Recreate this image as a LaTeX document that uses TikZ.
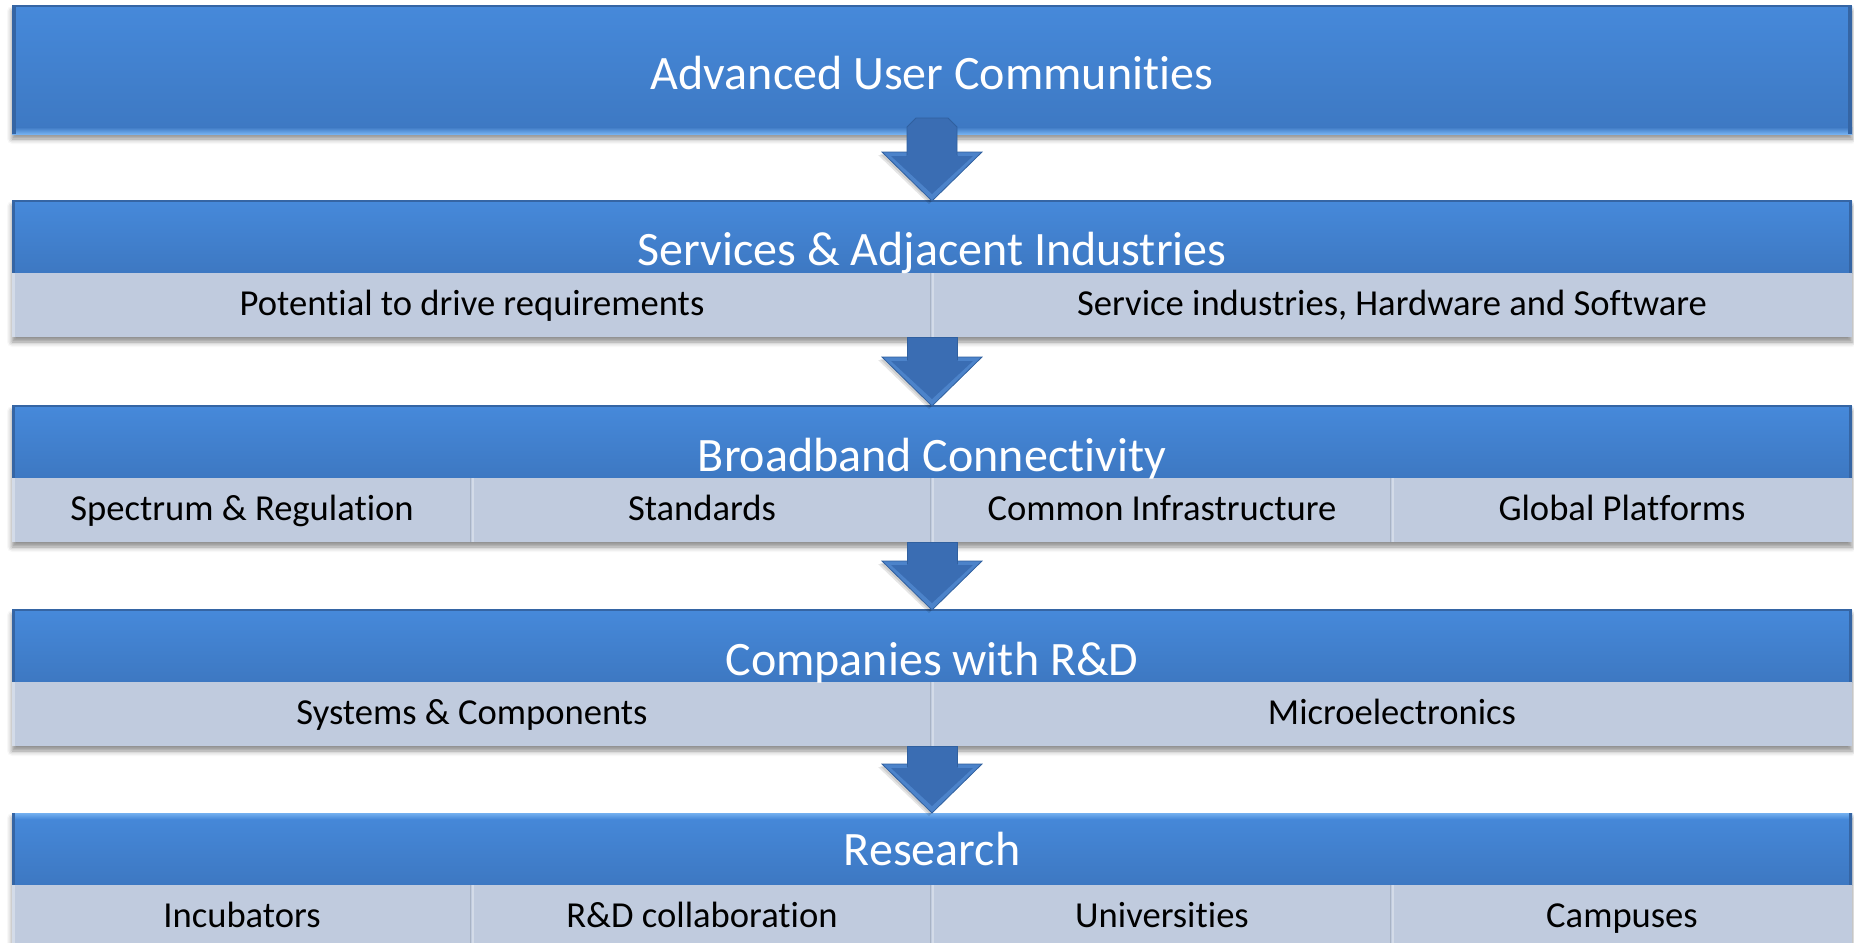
\documentclass[tikz,border=0pt]{standalone}
\usepackage{fontspec}
\setmainfont{Carlito}[Ligatures={CommonOff,ContextualOff,RareOff},Contextuals=AlternateOff]
\usetikzlibrary{calc,shadows.blur}

\definecolor{bluetop}{HTML}{4689DA}
\definecolor{bluebot}{HTML}{3D78C2}
\definecolor{cellgrey}{HTML}{C0CBDE}
\definecolor{cellhi}{HTML}{D3DBE8}
\definecolor{celldark}{HTML}{A8B3C5}
\definecolor{arrowblue}{HTML}{3A6DB3}
\definecolor{arrowdark}{HTML}{30609F}
\definecolor{arrowhi}{HTML}{4C83CA}
\definecolor{bevellight}{HTML}{74B0F0}
\definecolor{edgedark}{HTML}{3565A4}

\pgfdeclarelayer{background}
\pgfsetlayers{background,main}

\tikzset{
  bluebox/.style={rectangle, inner sep=0pt, outer sep=0pt, minimum width=920pt,
    top color=bluetop, bottom color=bluebot, draw=none},
  header/.style={bluebox, minimum height=36pt},
  bigheader/.style={bluebox, minimum height=64pt},
  cell/.style={rectangle, inner sep=0pt, outer sep=0pt, minimum height=32pt,
    fill=cellgrey, text=black, font=\fontsize{18.3}{22}\selectfont,
    text height=10pt, text depth=0pt},
  halfcell/.style={cell, minimum width=460pt},
  quartcell/.style={cell, minimum width=230pt},
  titletext/.style={anchor=base, text=white, font=\fontsize{24}{28}\selectfont, inner sep=0pt},
  boxshadow/.style={blur shadow={shadow xshift=0pt, shadow yshift=-2.5pt,
    shadow blur radius=2.5pt, shadow opacity=45}},
  arrowbody/.style={fill=arrowblue, draw=arrowdark, line width=0.4pt, line join=miter},
  arrowouter/.style={fill=arrowhi, draw=arrowdark, line width=0.4pt, line join=miter},
  arrowshadow/.style={fill=black, fill opacity=0.10},
  arrowinner/.style={fill=arrowblue},
  edgeline/.style={fill=edgedark},
  divider/.style={draw=cellhi, line width=1pt},
  dividershade/.style={draw=celldark, line width=0.5pt},
}

% flow arrow from a named start point #2 to a named end point #3 (tip); #1 = chamfer of the shaft top (px)
\newcommand{\flowarr}[3][0]{%
  \path[arrowshadow]
    ($(#3)+(-54,-46)$) -- ($(#3)+(46,-46)$) -- ($(#3)+(-3,3)$) -- cycle;
  \path[arrowshadow]
    ($(#3)+(-52,-47)$) -- ($(#3)+(48,-47)$) -- ($(#3)+(-2,1.5)$) -- cycle;
  \path[arrowouter]
    ($(#3)+(-50,-49)$) -- ($(#3)+(50,-49)$) -- (#3) -- cycle;
  \path[arrowinner]
    ($(#3)+(-41,-45)$) -- ($(#3)+(41,-45)$) -- ($(#3)+(0,-7)$) -- cycle;
  \path[arrowbody]
    ($(#2)+(-25,#1)$) -- ($(#2)+({-25+#1},0)$) -- ($(#2)+({25-#1},0)$) -- ($(#2)+(25,#1)$)
    -- ($(#3)+(25,-45)$) -- ($(#3)+(-25,-45)$) -- cycle;
  \path[fill=arrowblue] ($(#3)+(-25.5,-46)$) rectangle ($(#3)+(25.5,-40)$);
}

\begin{document}
\begin{tikzpicture}[x=0.5pt,y=-0.5pt]
\useasboundingbox (0,0) rectangle (1854,943);

% ---------- Box 1 ----------
\node[bigheader] (h1) at (932,70) {};
\fill[top color=bluebot, bottom color=bevellight] ([yshift=3.5pt]h1.south west) rectangle (h1.south east);
\fill[edgeline] (h1.north west) rectangle ([xshift=2pt]h1.south west);
\fill[edgeline] ([xshift=-2pt]h1.north east) rectangle (h1.south east);
\draw[edgedark, line width=0.8pt] (h1.north west) -- (h1.north east);
\node[titletext] (t1) at (932,89) {Advanced User Communities};

% ---------- Box 2 ----------
\node[header] (h2) at (932,237) {};
\node[halfcell] (c21) at (472,305) {Potential to drive requirements};
\node[halfcell] (c22) at (1392,305) {Service industries, Hardware and Software};
\node[titletext] (t2) at (932,265) {Services \& Adjacent Industries};

% ---------- Box 3 ----------
\node[header] (h3) at (932,442) {};
\node[quartcell] (c31) at (242,510) {Spectrum \& Regulation};
\node[quartcell] (c32) at (702,510) {Standards};
\node[quartcell] (c33) at (1162,510) {Common Infrastructure};
\node[quartcell] (c34) at (1622,510) {Global Platforms};
\node[titletext] (t3) at (932,471) {Broadband Connectivity};

% ---------- Box 4 ----------
\node[header] (h4) at (932,646) {};
\node[halfcell] (c41) at (472,714) {Systems \& Components};
\node[halfcell] (c42) at (1392,714) {Microelectronics};
\node[titletext] (t4) at (932,675) {Companies with R\&D};

% ---------- Box 5 ----------
\node[header] (h5) at (932,849) {};
\fill[top color=bevellight, bottom color=bluetop] (h5.north west) rectangle ([yshift=-3pt]h5.north east);
\node[quartcell] (c51) at (242,917) {Incubators};
\node[quartcell] (c52) at (702,917) {R\&D collaboration};
\node[quartcell] (c53) at (1162,917) {Universities};
\node[quartcell] (c54) at (1622,917) {Campuses};
\node[titletext] (t5) at (932,865) {Research};

% header edges and cell details
\foreach \h in {h2,h3,h4,h5} {
  \fill[edgeline] (\h.north west) rectangle ([xshift=1.5pt]\h.south west);
  \fill[edgeline] ([xshift=-1.5pt]\h.north east) rectangle (\h.south east);
}
\draw[edgedark, line width=0.8pt] (h2.north west) -- (h2.north east);
\draw[edgedark, line width=0.8pt] (h3.north west) -- (h3.north east);
\draw[edgedark, line width=0.8pt] (h4.north west) -- (h4.north east);
\foreach \c in {c21,c31,c41,c51} {
  \fill[cellhi] (\c.north west) rectangle ([xshift=1.5pt]\c.south west);
}
\foreach \c in {c21,c31,c32,c33,c41,c51,c52,c53} {
  \draw[dividershade] ([xshift=-0.6pt]\c.north east) -- ([xshift=-0.6pt]\c.south east);
  \draw[divider] ([xshift=0.5pt]\c.north east) -- ([xshift=0.5pt]\c.south east);
}

% ---------- shadows ----------
\begin{pgfonlayer}{background}
  \path[boxshadow] (h1.north west) rectangle (h1.south east);
  \path[boxshadow] (h2.north west) rectangle (c22.south east);
  \path[boxshadow] (h3.north west) rectangle (c34.south east);
  \path[boxshadow] (h4.north west) rectangle (c42.south east);
  \path[boxshadow] (h5.north west) rectangle (c54.south east);
\end{pgfonlayer}

% ---------- arrows ----------
\coordinate (a1) at ([yshift=8pt]h1.south);
\flowarr[9]{a1}{h2.north}
\flowarr{c21.south east}{h3.north}
\flowarr{c32.south east}{h4.north}
\flowarr{c41.south east}{h5.north}
\end{tikzpicture}
\end{document}
